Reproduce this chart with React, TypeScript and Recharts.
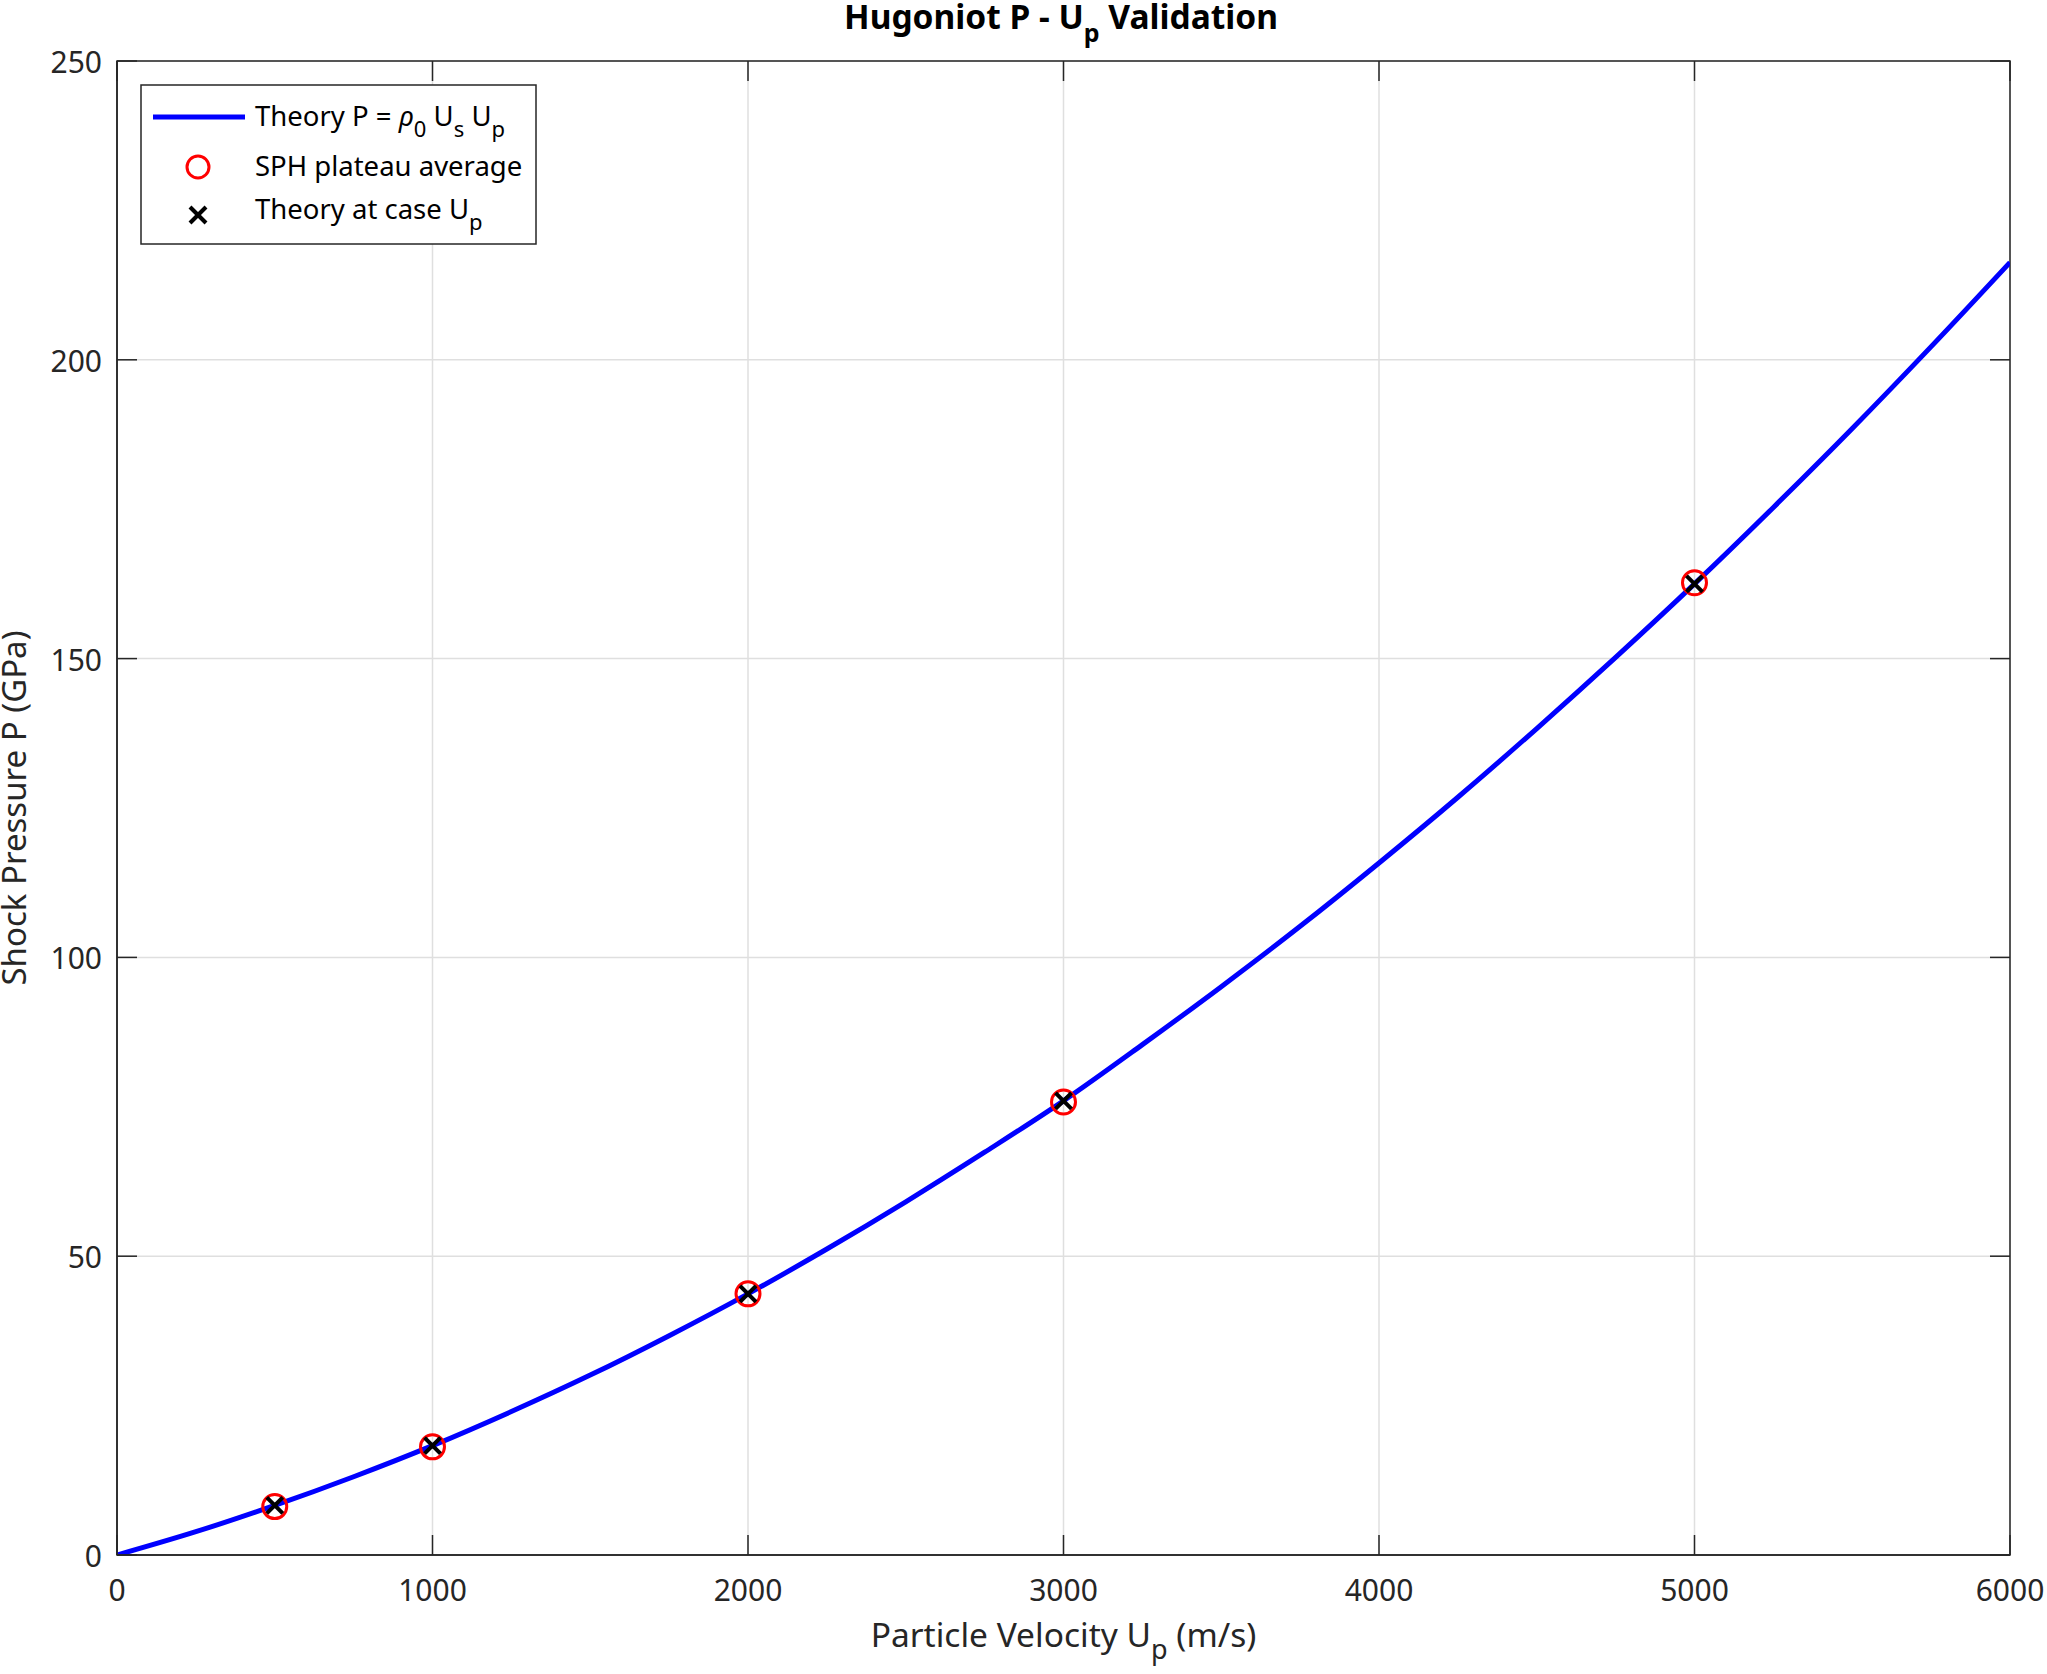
import React from "react";
import { ComposedChart, Line, Scatter, XAxis, YAxis, CartesianGrid, ReferenceArea } from "recharts";

const upGrid = [0, 250, 500, 750, 1000, 1250, 1500, 1750, 2000, 2250, 2500, 2750, 3000, 3250, 3500, 3750, 4000, 4250, 4500, 4750, 5000, 5250, 5500, 5750, 6000];
const theoryP = [0, 3.9, 8.3, 13.1, 18.3, 24.0, 30.1, 36.7, 43.7, 51.2, 59.1, 67.4, 76.0, 85.4, 95.1, 105.2, 115.8, 126.8, 138.3, 150.2, 162.5, 175.3, 188.5, 202.2, 216.3];

// simulation cases
const caseUp = [500, 1000, 2000, 3000, 5000];
const sphP = [8.1, 18.1, 43.7, 75.8, 162.7];
const theoryCaseP = [8.3, 18.3, 43.7, 76.0, 162.5];

const xTicks = [0, 1000, 2000, 3000, 4000, 5000, 6000];
const yTicks = [0, 50, 100, 150, 200, 250];

const W = 2047;
const H = 1674;
const M = { top: 61, right: 37, left: 117, bottom: 119 };
const PW = W - M.left - M.right;
const PH = H - M.top - M.bottom;
const AX = "#262626";
const FONT = "'Noto Sans', sans-serif";

const curveData = upGrid.map((up, i) => ({ up, p: theoryP[i] }));
const sphData = caseUp.map((up, i) => ({ up, p: sphP[i] }));
const caseData = caseUp.map((up, i) => ({ up, p: theoryCaseP[i] }));

const XTick = (props: any) => {
  const { x, y, payload } = props;
  return (
    <g>
      <line x1={x} x2={x} y1={y} y2={y - 20} stroke={AX} strokeWidth={1.5} />
      <line x1={x} x2={x} y1={y - PH} y2={y - PH + 20} stroke={AX} strokeWidth={1.5} />
      <text x={x} y={y + 46} textAnchor="middle" fill={AX} fontSize={30} fontFamily={FONT}>
        {payload.value}
      </text>
    </g>
  );
};

const YTick = (props: any) => {
  const { x, y, payload } = props;
  return (
    <g>
      <line x1={x} x2={x + 20} y1={y} y2={y} stroke={AX} strokeWidth={1.5} />
      <line x1={x + PW} x2={x + PW - 20} y1={y} y2={y} stroke={AX} strokeWidth={1.5} />
      <text x={x - 15} y={y + 12} textAnchor="end" fill={AX} fontSize={30} fontFamily={FONT}>
        {payload.value}
      </text>
    </g>
  );
};

const XLabel = (props: any) => {
  const vb = props.viewBox;
  return (
    <text x={vb.x + vb.width / 2} y={vb.y + 92} textAnchor="middle" fill={AX} fontSize={33.5} fontFamily={FONT}>
      Particle Velocity U
      <tspan fontSize={27} dy={12}>p</tspan>
      <tspan dy={-12}> (m/s)</tspan>
    </text>
  );
};

const YLabel = (props: any) => {
  const vb = props.viewBox;
  const cx = 26;
  const cy = vb.y + vb.height / 2;
  return (
    <text x={cx} y={cy} transform={`rotate(-90 ${cx} ${cy})`} textAnchor="middle" fill={AX} fontSize={33} fontFamily={FONT}>
      Shock Pressure P (GPa)
    </text>
  );
};

const Ring = (props: any) => (
  <circle cx={props.cx} cy={props.cy} r={12} fill="none" stroke="#ff0000" strokeWidth={3} />
);

const Cross = (props: any) => {
  const { cx, cy } = props;
  const s = 8;
  return (
    <g stroke="#000000" strokeWidth={4}>
      <line x1={cx - s} y1={cy - s} x2={cx + s} y2={cy + s} />
      <line x1={cx - s} y1={cy + s} x2={cx + s} y2={cy - s} />
    </g>
  );
};

// title + legend drawn on an overlay svg
const Overlay = () => {
  const lx = 141;
  const ly = 85;
  const tx = 255;
  const fs = 27.5;
  const sub = 22;
  return (
    <svg width={W} height={H} style={{ position: "absolute", left: 0, top: 0, pointerEvents: "none" }}>
      <text x={1061} y={28.5} textAnchor="middle" fontFamily={FONT} fontWeight={700} fontSize={33.5} fill="#000">
        Hugoniot P - U
        <tspan fontSize={25} dy={13}>p</tspan>
        <tspan dy={-13}> Validation</tspan>
      </text>
      <rect x={lx} y={ly} width={395} height={159} fill="#fff" stroke={AX} strokeWidth={1.5} />
      <line x1={153} x2={245} y1={117} y2={117} stroke="#0000ff" strokeWidth={5} />
      <circle cx={198} cy={167} r={11} fill="none" stroke="#ff0000" strokeWidth={3} />
      <g stroke="#000" strokeWidth={4}>
        <line x1={190} y1={207} x2={206} y2={223} />
        <line x1={190} y1={223} x2={206} y2={207} />
      </g>
      <g fontFamily={FONT} fontSize={fs} fill="#000">
        <text x={tx} y={125.5}>
          Theory P = <tspan fontStyle="italic">ρ</tspan>
          <tspan fontSize={sub} dy={11}>0</tspan>
          <tspan dy={-11}> U</tspan>
          <tspan fontSize={sub} dy={11}>s</tspan>
          <tspan dy={-11}> U</tspan>
          <tspan fontSize={sub} dy={11}>p</tspan>
        </text>
        <text x={tx} y={175.5}>SPH plateau average</text>
        <text x={tx} y={219}>
          Theory at case U
          <tspan fontSize={sub} dy={11}>p</tspan>
        </text>
      </g>
    </svg>
  );
};

export default function App() {
  return (
    <div style={{ position: "absolute", left: 0, top: 0, width: W, height: H, background: "#fff" }}>
      <ComposedChart width={W} height={H} margin={{ top: M.top, right: M.right, left: 0, bottom: 0 }}>
        <CartesianGrid stroke="#dfdfdf" strokeWidth={1.5} />
        <XAxis
          dataKey="up"
          type="number"
          domain={[0, 6000]}
          ticks={xTicks}
          height={M.bottom}
          tickSize={0}
          tickMargin={0}
          tickLine={false}
          tick={<XTick />}
          axisLine={{ stroke: AX, strokeWidth: 1.5 }}
          label={<XLabel />}
          allowDataOverflow
        />
        <YAxis
          dataKey="p"
          type="number"
          domain={[0, 250]}
          ticks={yTicks}
          width={M.left}
          tickSize={0}
          tickMargin={0}
          tickLine={false}
          tick={<YTick />}
          axisLine={{ stroke: AX, strokeWidth: 1.5 }}
          label={<YLabel />}
          allowDataOverflow
        />
        <ReferenceArea x1={0} x2={6000} y1={0} y2={250} fill="none" stroke={AX} strokeWidth={1.5} fillOpacity={0} />
        <Line
          data={curveData}
          dataKey="p"
          type="monotone"
          stroke="#0000ff"
          strokeWidth={5}
          dot={false}
          activeDot={false}
          isAnimationActive={false}
        />
        <Scatter data={sphData} dataKey="p" shape={<Ring />} isAnimationActive={false} />
        <Scatter data={caseData} dataKey="p" shape={<Cross />} isAnimationActive={false} />
      </ComposedChart>
      <Overlay />
    </div>
  );
}
